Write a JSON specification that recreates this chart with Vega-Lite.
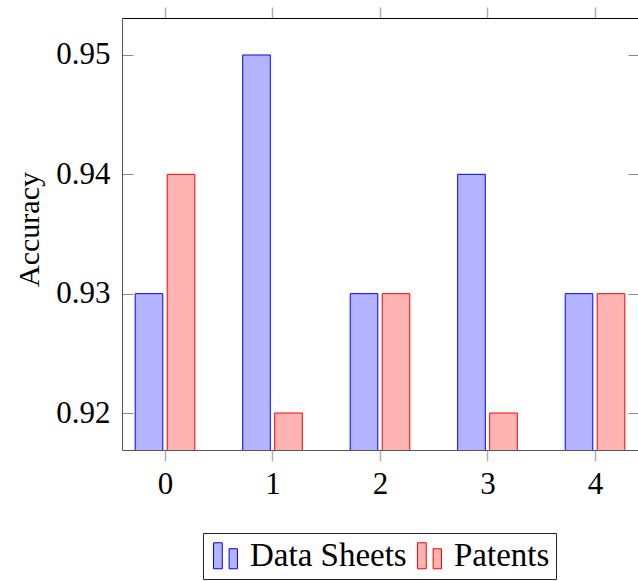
{
  "$schema": "https://vega.github.io/schema/vega-lite/v6.json",
  "width": 516,
  "height": 432,
  "autosize": {"type": "none"},
  "padding": {"left": 122, "top": 18, "right": 0, "bottom": 131},
  "background": "white",
  "config": {"view": {"stroke": null}, "font": "Liberation Serif"},
  "data": {
    "values": [
      {"group": 0, "series": "Data Sheets", "accuracy": 0.93},
      {"group": 1, "series": "Data Sheets", "accuracy": 0.95},
      {"group": 2, "series": "Data Sheets", "accuracy": 0.93},
      {"group": 3, "series": "Data Sheets", "accuracy": 0.94},
      {"group": 4, "series": "Data Sheets", "accuracy": 0.93},
      {"group": 0, "series": "Patents", "accuracy": 0.94},
      {"group": 1, "series": "Patents", "accuracy": 0.92},
      {"group": 2, "series": "Patents", "accuracy": 0.93},
      {"group": 3, "series": "Patents", "accuracy": 0.92},
      {"group": 4, "series": "Patents", "accuracy": 0.93}
    ]
  },
  "layer": [
    {
      "transform": [{"filter": "datum.series === 'Data Sheets'"}],
      "mark": {"type": "bar", "orient": "vertical", "clip": true, "xOffset": -16, "width": 27.6, "strokeWidth": 1},
      "encoding": {
        "x": {
          "field": "group", "type": "quantitative",
          "scale": {"domain": [-0.4, 4.4], "nice": false, "zero": false, "padding": 0},
          "axis": {"orient": "bottom", "values": [0, 1, 2, 3, 4], "format": "d", "title": null, "grid": false,
            "domainColor": "#555555", "tickColor": "#b0b0b0", "tickWidth": 1.5, "tickSize": 11,
            "labelFont": "Liberation Serif", "labelFontSize": 31, "labelColor": "black", "labelPadding": 8}
        },
        "y": {
          "field": "accuracy", "type": "quantitative",
          "scale": {"domain": [0.9169, 0.9531], "nice": false, "zero": false, "padding": 0},
          "axis": {"orient": "left", "values": [0.92, 0.93, 0.94, 0.95], "format": ".2f", "title": "Accuracy", "grid": false,
            "domainColor": "#555555", "tickColor": "#888888", "tickSize": -11, "labelPadding": 23,
            "labelFont": "Liberation Serif", "labelFontSize": 31, "labelColor": "black",
            "titleFont": "Liberation Serif", "titleFontSize": 30, "titleFontWeight": "normal", "titleColor": "black",
            "titleX": -84, "titleY": 211, "titleAngle": -90, "titleBaseline": "alphabetic", "titleAlign": "center"}
        },
        "fill": {
          "field": "series", "type": "nominal",
          "scale": {"domain": ["Data Sheets", "Patents"], "range": ["#b3b3ff", "#ffb3b3"]},
          "legend": {"orient": "none", "legendX": 81, "legendY": 515, "direction": "horizontal", "columns": 2, "title": null,
            "strokeColor": "#222222", "padding": 6, "symbolType": "M-0.92,-1L-0.25,-1L-0.25,1L-0.92,1ZM0.28,-0.54L0.92,-0.54L0.92,1L0.28,1Z",
            "symbolSize": 676, "symbolStrokeWidth": 1, "labelOffset": 8, "columnPadding": 6,
            "labelFont": "Liberation Serif", "labelFontSize": 33, "labelColor": "black", "labelLimit": 400}
        },
        "stroke": {
          "field": "series", "type": "nominal",
          "scale": {"domain": ["Data Sheets", "Patents"], "range": ["#0000ff", "#ff0000"]},
          "legend": {"orient": "none", "legendX": 81, "legendY": 515, "direction": "horizontal", "columns": 2, "title": null,
            "strokeColor": "#222222", "padding": 6, "symbolType": "M-0.92,-1L-0.25,-1L-0.25,1L-0.92,1ZM0.28,-0.54L0.92,-0.54L0.92,1L0.28,1Z",
            "symbolSize": 676, "symbolStrokeWidth": 1, "labelOffset": 8, "columnPadding": 6,
            "labelFont": "Liberation Serif", "labelFontSize": 33, "labelColor": "black", "labelLimit": 400}
        }
      }
    },
    {
      "transform": [{"filter": "datum.series === 'Patents'"}],
      "mark": {"type": "bar", "orient": "vertical", "clip": true, "xOffset": 16, "width": 27.6, "strokeWidth": 1},
      "encoding": {
        "x": {
          "field": "group", "type": "quantitative",
          "scale": {"domain": [-0.4, 4.4], "nice": false, "zero": false, "padding": 0},
          "axis": {"orient": "top", "values": [0, 1, 2, 3, 4], "labels": false, "title": null, "grid": false,
            "domainColor": "black", "tickColor": "#b0b0b0", "tickWidth": 1.5, "tickSize": 11}
        },
        "y": {
          "field": "accuracy", "type": "quantitative",
          "scale": {"domain": [0.9169, 0.9531], "nice": false, "zero": false, "padding": 0},
          "axis": {"orient": "right", "values": [0.92, 0.93, 0.94, 0.95], "labels": false, "title": null, "grid": false,
            "domainColor": "black", "tickColor": "#888888", "tickSize": -10}
        },
        "fill": {"field": "series", "type": "nominal"},
        "stroke": {"field": "series", "type": "nominal"}
      }
    }
  ],
  "resolve": {"axis": {"x": "independent", "y": "independent"}}
}
